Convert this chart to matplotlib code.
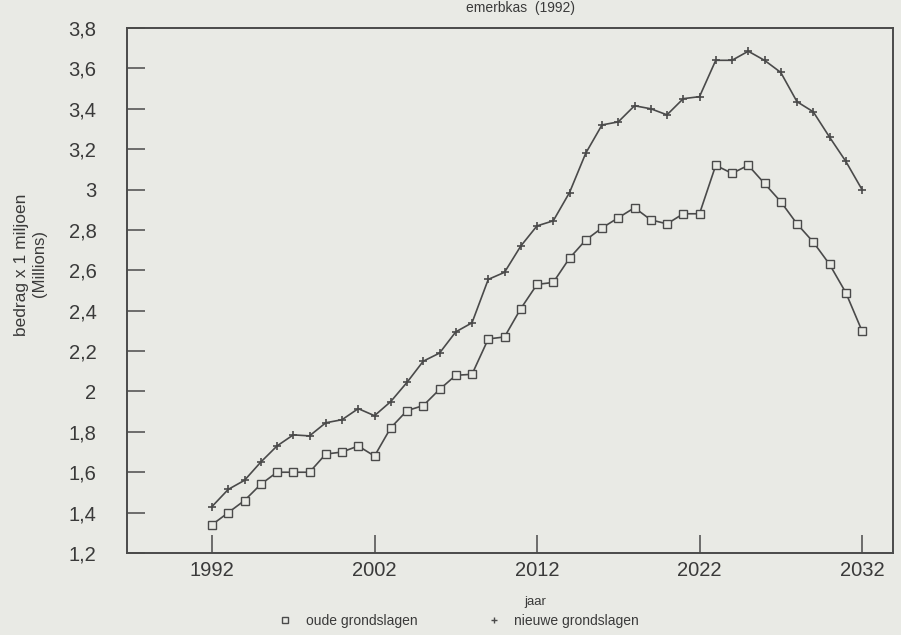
import matplotlib
matplotlib.use("Agg")
import matplotlib.pyplot as plt
from matplotlib.lines import Line2D
from matplotlib.ticker import FuncFormatter

years = list(range(1992, 2033))
oude = [1.34, 1.40, 1.46, 1.54, 1.60, 1.60, 1.60, 1.69, 1.70, 1.73, 1.68, 1.82, 1.905, 1.93,
        2.01, 2.08, 2.085, 2.26, 2.27, 2.41, 2.53, 2.54, 2.66, 2.75, 2.81, 2.86, 2.91,
        2.85, 2.83, 2.88, 2.88, 3.12, 3.08, 3.12, 3.03, 2.94, 2.83, 2.74, 2.63, 2.49, 2.30]
nieuwe = [1.43, 1.515, 1.56, 1.65, 1.73, 1.785, 1.78, 1.845, 1.86, 1.915, 1.88, 1.95, 2.045, 2.15,
          2.19, 2.295, 2.34, 2.555, 2.59, 2.72, 2.82, 2.845, 2.985,
          3.18, 3.32, 3.335, 3.415, 3.40, 3.37, 3.45, 3.46, 3.64, 3.64, 3.685, 3.64, 3.58,
          3.435, 3.385, 3.26, 3.14, 3.0]
xticks = [1992, 2002, 2012, 2022, 2032]
yticks = [1.2, 1.4, 1.6, 1.8, 2.0, 2.2, 2.4, 2.6, 2.8, 3.0, 3.2, 3.4, 3.6, 3.8]
labels = ["oude grondslagen", "nieuwe grondslagen"]

plt.rcParams['font.family'] = ['Liberation Sans', 'DejaVu Sans']
bg = '#e9eae5'
ink = '#4a4a4a'
txt = '#3a3a3a'

fig = plt.figure(figsize=(9.01, 6.35), dpi=100, facecolor=bg)
ax = fig.add_axes([127/901, 82/635, (893-127)/901, (553-28)/635])
ax.set_facecolor(bg)

ax.plot(years, oude, color=ink, lw=1.2, marker='s', ms=5.5, mfc=bg, mec=ink, mew=1.0)
ax.plot(years, nieuwe, color=ink, lw=1.2, marker='+', ms=5.5, mec=ink, mew=1.2)

ax.set_xlim(1992 - 85/16.25, 2032 + 31/16.25)
ax.set_ylim(1.2, 3.8)
ax.set_xticks(xticks)
ax.set_yticks(yticks)

def yfmt(v, pos):
    s = f"{v:.1f}"
    if s.endswith(".0"):
        s = s[:-2]
    return s.replace('.', ',')

ax.yaxis.set_major_formatter(FuncFormatter(yfmt))
ax.tick_params(axis='both', direction='in', length=13, width=1.1, colors=ink,
               labelsize=14.5, labelcolor=txt)
ax.tick_params(axis='y', pad=22)
ax.tick_params(axis='x', pad=6)
for s in ax.spines.values():
    s.set_color(ink)
    s.set_linewidth(1.4)

ax.set_xlabel("jaar", fontsize=9.5, color=txt)
ax.xaxis.set_label_coords((535 - 127) / 766, -(596 - 553) / 525)
fig.text(22/901, 1 - 265/635, "bedrag x 1 miljoen", rotation=90, fontsize=12.5,
         color=txt, ha='center', va='center')
fig.text(39/901, 1 - 263/635, "(Millions)", rotation=90, fontsize=12,
         color=txt, ha='center', va='center')
fig.text(520/901, 1 - 8/635, "emerbkas  (1992)", fontsize=10, color=txt,
         ha='center', va='center')

handles = [Line2D([], [], ls='none', marker='s', ms=5, mfc=bg, mec=ink, mew=1),
           Line2D([], [], ls='none', marker='+', ms=5, mec=ink, mew=1)]
fig.legend(handles, labels, loc='center', bbox_to_anchor=(455/901, 1 - 621/635), ncol=2,
           frameon=False, fontsize=10, columnspacing=4.5, handletextpad=0.5,
           labelcolor=txt)

fig.savefig("out.png", dpi=100, facecolor=bg)
